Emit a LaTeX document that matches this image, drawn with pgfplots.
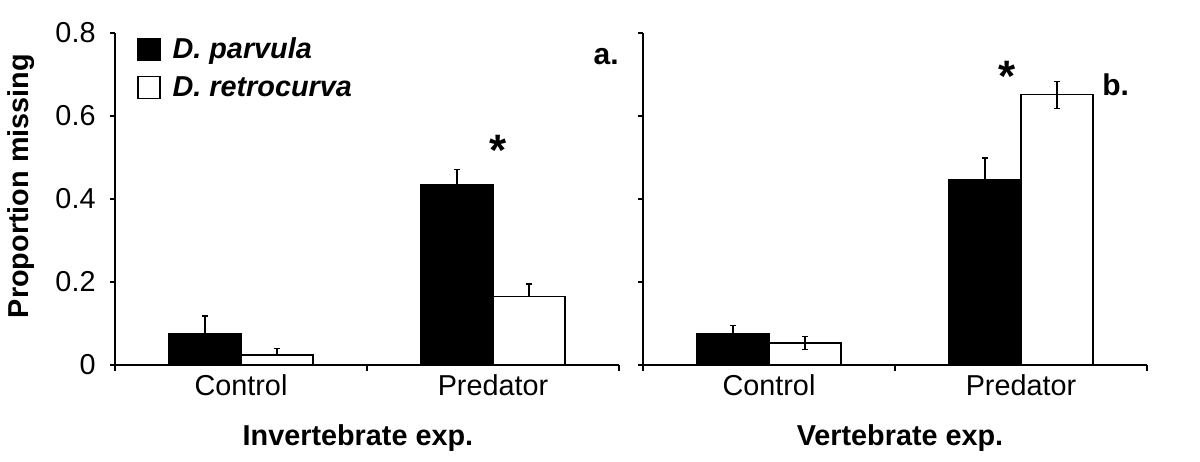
\documentclass[border=0pt]{standalone}
\usepackage{fontspec}
\setmainfont{Liberation Sans}
\usepackage{pgfplots}
\pgfplotsset{compat=1.18}

% 1 px of the reference = 0.5pt
\newcommand{\lblfont}{\fontsize{14.4}{16}\selectfont}
\pgfplotsset{
  panel/.style={
    anchor=south west,
    scale only axis, width=252pt, height=166pt,
    xmin=-0.5, xmax=1.5, ymin=0, ymax=0.8,
    axis lines*=left,
    axis line style={line width=0.8pt},
    ybar=0pt, bar width=36pt,
    xtick={0,1}, xticklabels={Control,Predator},
    major x tick style={draw=none},
    minor xtick={-0.5,0.5,1.5},
    minor tick length=3pt,
    ytick={0,0.2,0.4,0.6,0.8},
    major tick length=2.5pt,
    tick align=outside,
    tick style={black, line width=0.8pt},
    ticklabel style={font=\lblfont},
    /pgf/number format/assume math mode=true,
    x tick label style={anchor=base, yshift=-12.5pt},
    y tick label style={xshift=-3.7pt},
    x label style={font=\bfseries\lblfont, anchor=base},
    clip=false,
  },
  sqr/.style={legend image code/.code={\draw[##1, line width=0.6pt] (0pt,-5.5pt) rectangle (11pt,5.5pt); \path (15pt,0pt);}},
  errs/.style={error bars/.cd, y dir=#1, y explicit,
    error bar style={line width=0.6pt, black},
    error mark options={rotate=90, line width=0.6pt, black, mark size=1.5pt}},
}

\begin{document}
\begin{tikzpicture}
\path[use as bounding box] (0,0) rectangle (600pt,230.5pt);

% a. invertebrate experiment
\begin{axis}[panel, at={(57.5pt,48pt)},
  xlabel={Invertebrate exp.},
  x label style={at={(axis description cs:0.482,-0.241)}},
  ylabel={Proportion missing},
  y label style={at={(axis description cs:-0.1865,0.539)}, anchor=center, font=\bfseries\lblfont},
  legend cell align=left,
  legend style={at={(rel axis cs:0.0437,1.0)}, anchor=north west, draw=none, fill=none,
    inner sep=0pt, row sep=3.5pt, font=\bfseries\itshape\lblfont},
]
\addplot[fill=black, draw=black, line width=0.6pt, sqr, errs=plus]
  coordinates {(0,0.075) +- (0,0.043) (1,0.434) +- (0,0.038)};
\addplot[fill=white, draw=black, line width=0.6pt, sqr, errs=plus]
  coordinates {(0,0.024) +- (0,0.015) (1,0.166) +- (0,0.029)};
\legend{D. parvula, D. retrocurva}
\node[anchor=north, inner sep=0pt, font=\bfseries\fontsize{22}{24}\selectfont] at (axis cs:1.02,0.554) {*};
\node[anchor=east, inner sep=0pt, font=\bfseries\fontsize{15}{17}\selectfont] at (rel axis cs:1,0.928) {a.};
\end{axis}

% b. vertebrate experiment
\begin{axis}[panel, at={(321.5pt,48pt)},
  yticklabels={},
  xlabel={Vertebrate exp.},
  x label style={at={(axis description cs:0.51,-0.241)}},
]
\addplot[fill=black, draw=black, line width=0.6pt, errs=both]
  coordinates {(0,0.075) +- (0,0.021) (1,0.446) +- (0,0.053)};
\addplot[fill=white, draw=black, line width=0.6pt, errs=both]
  coordinates {(0,0.053) +- (0,0.015) (1,0.651) +- (0,0.032)};
\node[anchor=north, inner sep=0pt, font=\bfseries\fontsize{22}{24}\selectfont] at (axis cs:0.944,0.733) {*};
\node[anchor=west, inner sep=0pt, font=\bfseries\fontsize{15}{17}\selectfont] at (axis cs:1.321,0.675) {b.};
\end{axis}
\end{tikzpicture}
\end{document}
